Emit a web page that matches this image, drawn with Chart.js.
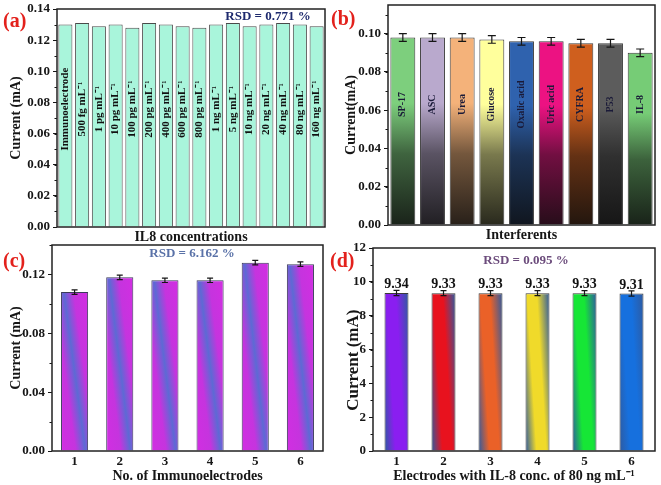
<!DOCTYPE html>
<html>
<head>
<meta charset="utf-8">
<script src="https://cdn.jsdelivr.net/npm/chart.js@4.4.1/dist/chart.umd.min.js"></script>
<style>
  html, body { margin: 0; padding: 0; background: #fff; }
  #wrap { position: relative; width: 661px; height: 485px; overflow: hidden; }
  canvas { position: absolute; }
  .tag { position: absolute; font: bold 20px 'Liberation Serif', 'Times New Roman', serif; color: #e3211c; line-height: 20px; }
</style>
</head>
<body>
<div id="wrap">
  <canvas id="ca" width="330" height="246" style="left:0;top:0"></canvas>
  <canvas id="cb" width="331" height="246" style="left:330px;top:0"></canvas>
  <canvas id="cc" width="330" height="243" style="left:0;top:242px"></canvas>
  <canvas id="cd" width="331" height="243" style="left:330px;top:242px"></canvas>
  <div class="tag" style="left:3px;top:10px">(a)</div>
  <div class="tag" style="left:331px;top:8px">(b)</div>
  <div class="tag" style="left:3px;top:250px">(c)</div>
  <div class="tag" style="left:330px;top:250px">(d)</div>
</div>
<script>
// (a) stability across IL8 concentrations
const concLabels = ['Immunoelectrode', '500 fg mL⁻¹', '1 pg mL⁻¹', '10 pg mL⁻¹', '100 pg mL⁻¹', '200 pg mL⁻¹',
  '400 pg mL⁻¹', '600 pg mL⁻¹', '800 pg mL⁻¹', '1 ng mL⁻¹', '5 ng mL⁻¹', '10 ng mL⁻¹', '20 ng mL⁻¹',
  '40 ng mL⁻¹', '80 ng mL⁻¹', '160 ng mL⁻¹'];
const concValues = [0.130, 0.131, 0.129, 0.130, 0.128, 0.131, 0.130, 0.129, 0.128, 0.130, 0.131, 0.129, 0.130, 0.131, 0.130, 0.129];
const concTicks = [0, 0.02, 0.04, 0.06, 0.08, 0.10, 0.12, 0.14];

// (b) interferents
const interfLabels = ['SP-17', 'ASC', 'Urea', 'Glucose', 'Oxalic acid', 'Uric acid', 'CYFRA', 'P53', 'IL-8'];
const interfValues = [0.098, 0.098, 0.098, 0.097, 0.096, 0.096, 0.095, 0.095, 0.090];
const interfErrors = [0.002, 0.002, 0.002, 0.002, 0.002, 0.002, 0.002, 0.002, 0.002];
const interfTicks = [0, 0.02, 0.04, 0.06, 0.08, 0.10];

// (c) reproducibility
const electrodeLabels = ['1', '2', '3', '4', '5', '6'];
const electrodeValues = [0.108, 0.118, 0.116, 0.116, 0.128, 0.127];
const electrodeErrors = [0.0015, 0.0015, 0.0015, 0.0015, 0.0015, 0.0015];
const electrodeTicks = [0, 0.04, 0.08, 0.12];

// (d) electrodes at 80 ng/mL
const repeatLabels = ['1', '2', '3', '4', '5', '6'];
const repeatValues = [9.34, 9.33, 9.33, 9.33, 9.33, 9.31];
const repeatErrors = [0.15, 0.15, 0.15, 0.15, 0.15, 0.15];
const repeatTicks = [0, 2, 4, 6, 8, 10, 12];

const interfColors = ['#7dcf7d', '#b9a9cd', '#f4b27a', '#ffff9c', '#2f62ae', '#ec1282', '#cf5f1e', '#5c5c5c', '#76cc76'];
const repeatColors = ['#8a1ef0', '#e8121e', '#ea6128', '#f0da2a', '#16e636', '#1670de'];

const SERIF = "'Liberation Serif', 'Times New Roman', serif";
const INK = '#161616';

function hexRgb(h) {
  const n = parseInt(h.slice(1), 16);
  return [(n >> 16) & 255, (n >> 8) & 255, n & 255];
}
function mix(a, b, t) {
  const p = hexRgb(a), q = hexRgb(b);
  return 'rgb(' + p.map((v, i) => Math.round(v + (q[i] - v) * t)).join(',') + ')';
}

// bar geometry straight from the scales
function barBox(chart, i, v, pct) {
  const x = chart.scales.x, y = chart.scales.y;
  const cx = x.getPixelForValue(i);
  const hw = (x.width / chart.data.labels.length) * pct / 2;
  return { cx, hw, top: y.getPixelForValue(v), bottom: y.getPixelForValue(0) };
}

// slanted gradient across a bar
function slanted(chart, i, v, pct, k, stops) {
  const b = barBox(chart, i, v, pct);
  const H = b.bottom - b.top, dx = 2 * k * b.hw;
  const L = Math.hypot(H, dx);
  const nx = H / L, ny = -dx / L;
  const e = (b.hw * H + H / 2 * dx) / L;
  const cy = (b.top + b.bottom) / 2;
  const g = chart.ctx.createLinearGradient(b.cx - nx * e, cy - ny * e, b.cx + nx * e, cy + ny * e);
  stops.forEach(s => g.addColorStop(s[0], s[1]));
  return g;
}

function decor(cfg) {
  return {
    id: 'decor',
    afterDatasetsDraw(chart) {
      const { ctx, chartArea: a, scales: { x, y } } = chart;
      const vals = chart.data.datasets[0].data;
      ctx.save();
      ctx.strokeStyle = INK;
      ctx.lineWidth = 1;
      // minor ticks on left axis
      if (cfg.minor) {
        for (let v = 0; v <= y.max + 1e-9; v += cfg.minor) {
          const py = Math.round(y.getPixelForValue(v)) + 0.5;
          ctx.beginPath(); ctx.moveTo(a.left, py); ctx.lineTo(a.left - 2.5, py); ctx.stroke();
        }
      }
      // error bars
      if (cfg.errors) {
        ctx.lineWidth = 1.2;
        vals.forEach((v, i) => {
          const px = x.getPixelForValue(i), e = cfg.errors[i];
          const y1 = y.getPixelForValue(v + e), y2 = y.getPixelForValue(v - e);
          ctx.beginPath();
          ctx.moveTo(px, y1); ctx.lineTo(px, y2);
          ctx.moveTo(px - cfg.cap, y1); ctx.lineTo(px + cfg.cap, y1);
          ctx.moveTo(px - cfg.cap, y2); ctx.lineTo(px + cfg.cap, y2);
          ctx.stroke();
        });
      }
      // labels written inside the bars
      if (cfg.inside) {
        ctx.fillStyle = cfg.insideColor;
        ctx.font = cfg.insideFont;
        ctx.textAlign = 'center';
        ctx.textBaseline = 'middle';
        chart.data.labels.forEach((lab, i) => {
          ctx.save();
          ctx.translate(x.getPixelForValue(i), y.getPixelForValue(cfg.inside));
          ctx.rotate(-Math.PI / 2);
          ctx.fillText(lab, 0, 0);
          ctx.restore();
        });
      }
      // values above bars
      if (cfg.valueLabels) {
        ctx.fillStyle = '#111';
        ctx.font = 'bold 14px ' + SERIF;
        ctx.textAlign = 'center';
        ctx.textBaseline = 'alphabetic';
        vals.forEach((v, i) => ctx.fillText(v.toFixed(2), x.getPixelForValue(i), y.getPixelForValue(v) - 5));
      }
      // RSD note
      if (cfg.note) {
        ctx.fillStyle = cfg.note.color;
        ctx.font = 'bold 13px ' + SERIF;
        ctx.textAlign = 'center';
        ctx.textBaseline = 'middle';
        ctx.fillText(cfg.note.text, cfg.note.x, cfg.note.y);
      }
      // frame
      ctx.lineWidth = 1.5;
      ctx.strokeStyle = '#222';
      ctx.strokeRect(a.left, a.top, a.right - a.left, a.bottom - a.top);
      ctx.restore();
    }
  };
}

function panel(id, box, cfg) {
  const cv = document.getElementById(id);
  const W = cv.width, H = cv.height;
  const font = { family: SERIF, weight: 'bold', size: 13 };
  const tfont = { family: SERIF, weight: 'bold', size: 14 };
  return new Chart(cv, {
    type: 'bar',
    data: {
      labels: cfg.labels,
      datasets: [{
        data: cfg.values,
        backgroundColor: cfg.fill,
        borderColor: cfg.border || '#444',
        borderWidth: 1,
        barPercentage: cfg.pct,
        categoryPercentage: 1
      }]
    },
    options: {
      responsive: false,
      animation: false,
      devicePixelRatio: 1,
      layout: { padding: { top: box.top, right: W - box.right, left: 0, bottom: 0 } },
      plugins: { legend: { display: false }, tooltip: { enabled: false } },
      scales: {
        x: {
          grid: { display: false, drawTicks: false },
          border: { display: false },
          ticks: { display: cfg.xTicks, font, color: INK, padding: 3, maxRotation: 0, autoSkip: false },
          title: { display: true, text: cfg.xTitle, font: tfont, color: INK, padding: { top: 0, bottom: cfg.xPad } },
          afterFit: s => { s.height = H - box.bottom; s.paddingLeft = 0; s.paddingRight = 0; }
        },
        y: {
          min: 0,
          max: cfg.max,
          afterBuildTicks: s => { s.ticks = cfg.ticks.map(v => ({ value: v })); },
          grid: { drawOnChartArea: false, drawTicks: true, tickLength: 4, color: INK, lineWidth: 1 },
          border: { display: false },
          ticks: { font, color: INK, padding: 3, callback: cfg.fmt },
          title: {
            display: true, text: cfg.yTitle, color: INK, padding: { top: cfg.yPad, bottom: 0 },
            font: { family: SERIF, weight: 'bold', size: cfg.ySize || 14 }
          },
          afterFit: s => { s.width = box.left; s.paddingTop = 0; s.paddingBottom = 0; }
        }
      }
    },
    plugins: [decor(cfg)]
  });
}

// (a)
panel('ca', { left: 57, top: 9, right: 325, bottom: 227 }, {
  labels: concLabels, values: concValues, ticks: concTicks, max: 0.14, minor: 0.01,
  fill: '#a9f5db', border: '#4a4a4a', pct: 0.84,
  xTicks: false, xTitle: 'IL8 concentrations', xPad: 0,
  yTitle: 'Current (mA)', yPad: 8, fmt: v => v.toFixed(2),
  inside: 0.0757, insideColor: '#111', insideFont: 'bold 11px ' + SERIF,
  note: { text: 'RSD = 0.771 %', x: 268, y: 17, color: '#1e2a6e' }
});

// (b)
panel('cb', { left: 58, top: 5, right: 325, bottom: 225 }, {
  labels: interfLabels, values: interfValues, ticks: interfTicks, max: 0.115, minor: 0.01,
  errors: interfErrors, cap: 4,
  fill: ctx => {
    const base = interfColors[ctx.dataIndex] || '#888';
    const c = ctx.chart;
    if (!c.chartArea || ctx.type !== 'data') return base;
    const b = barBox(c, ctx.dataIndex, ctx.raw, 0.84);
    const g = c.ctx.createLinearGradient(0, b.top, 0, b.bottom);
    g.addColorStop(0, base);
    g.addColorStop(0.35, base);
    g.addColorStop(0.62, mix(base, '#0c0c0c', 0.55));
    g.addColorStop(1, mix(base, '#0c0c0c', 0.88));
    return g;
  },
  border: '#3a3a3a', pct: 0.84,
  xTicks: false, xTitle: 'Interferents', xPad: 2,
  yTitle: 'Current(mA)', yPad: 13, fmt: v => v.toFixed(2),
  inside: 0.063, insideColor: '#1a1a38', insideFont: 'bold 10px ' + SERIF
});

// (c)
panel('cc', { left: 52, top: 3, right: 323, bottom: 209 }, {
  labels: electrodeLabels, values: electrodeValues, ticks: electrodeTicks, max: 0.14, minor: 0.02,
  errors: electrodeErrors, cap: 3,
  fill: ctx => {
    const c = ctx.chart;
    if (!c.chartArea || ctx.type !== 'data') return '#c832dc';
    return slanted(c, ctx.dataIndex, ctx.raw, 0.6, 0.8,
      [[0, '#d22ee2'], [0.3, '#c534de'], [0.5, '#5d6ad4'], [0.7, '#c534de'], [1, '#d22ee2']]);
  },
  border: '#3a3a5a', pct: 0.6,
  xTicks: true, xTitle: 'No. of Immunoelectrodes', xPad: 0,
  yTitle: 'Current (mA)', yPad: 8, fmt: v => v.toFixed(2),
  note: { text: 'RSD = 6.162 %', x: 192, y: 12, color: '#5a72a8' }
});

// (d)
panel('cd', { left: 43, top: 6, right: 325, bottom: 209 }, {
  labels: repeatLabels, values: repeatValues, ticks: repeatTicks, max: 12, minor: 1,
  errors: repeatErrors, cap: 3, valueLabels: true,
  fill: ctx => {
    const base = repeatColors[ctx.dataIndex] || '#888';
    const c = ctx.chart;
    if (!c.chartArea || ctx.type !== 'data') return base;
    const edge = '#2e5aa0';
    return slanted(c, ctx.dataIndex, ctx.raw, 0.51, 0.4,
      [[0, edge], [0.33, base], [0.62, base], [1, edge]]);
  },
  border: '#3a3a3a', pct: 0.51,
  xTicks: true, xTitle: 'Electrodes with IL-8 conc. of 80 ng mL⁻¹', xPad: 0,
  yTitle: 'Current (mA)     ', ySize: 17, yPad: 13, fmt: v => String(v),
  note: { text: 'RSD = 0.095 %', x: 196, y: 19, color: '#6c4c7c' }
});
</script>
</body>
</html>
